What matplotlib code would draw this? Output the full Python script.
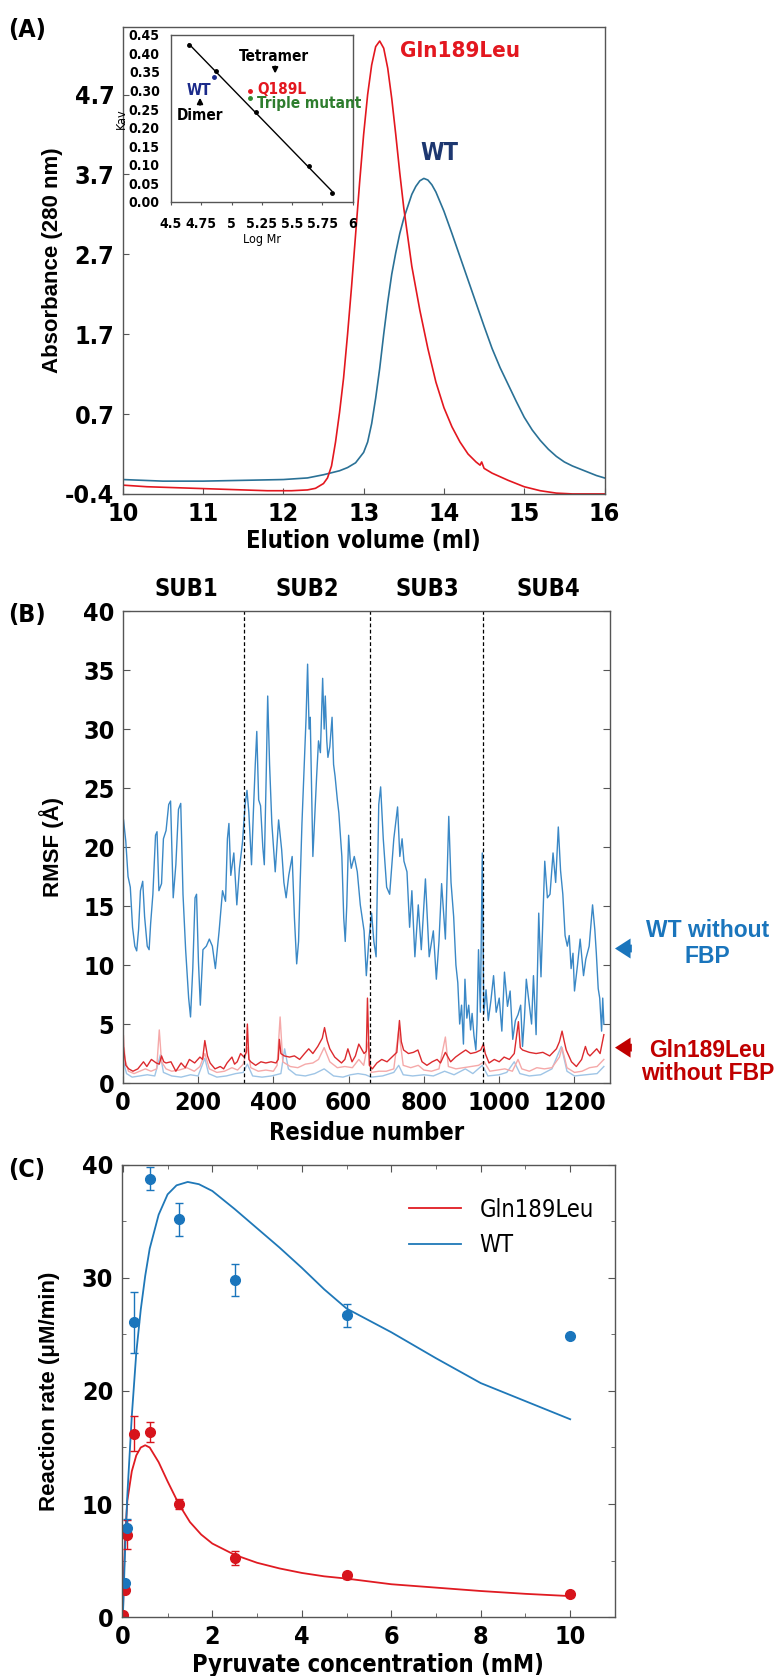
import matplotlib
matplotlib.use('Agg')
import matplotlib.pyplot as plt
import numpy as np
from matplotlib import font_manager
from matplotlib.ticker import MultipleLocator, FormatStrFormatter

# ---- panel A: size-exclusion chromatograms ----
ELU_WT_X = [10.0, 10.5, 11.0, 11.5, 12.0, 12.3, 12.5, 12.7, 12.8, 12.9, 13.0, 13.05, 13.1, 13.15,
            13.2, 13.25, 13.3, 13.35, 13.4, 13.45, 13.5, 13.55, 13.6, 13.65, 13.7, 13.75, 13.8,
            13.85, 13.9, 14.0, 14.1, 14.2, 14.3, 14.4, 14.5, 14.6, 14.7, 14.8, 14.9, 15.0, 15.1,
            15.2, 15.3, 15.4, 15.5, 15.6, 15.7, 15.8, 15.9, 16.0]
ELU_WT_Y = [-0.12, -0.14, -0.14, -0.13, -0.12, -0.10, -0.06, -0.01, 0.03, 0.09, 0.22, 0.35, 0.58,
            0.90, 1.27, 1.70, 2.10, 2.45, 2.72, 2.96, 3.15, 3.30, 3.45, 3.55, 3.62, 3.65, 3.63, 3.57,
            3.48, 3.24, 2.96, 2.67, 2.38, 2.09, 1.80, 1.52, 1.28, 1.07, 0.86, 0.66, 0.50, 0.37, 0.26,
            0.17, 0.10, 0.05, 0.01, -0.03, -0.07, -0.10]
ELU_MUT_X = [10.0, 10.3, 10.6, 10.9, 11.2, 11.5, 11.8, 12.1, 12.3, 12.4, 12.5, 12.55, 12.6, 12.65,
             12.7, 12.75, 12.8, 12.85, 12.9, 12.95, 13.0, 13.05, 13.1, 13.15, 13.2, 13.25, 13.3,
             13.35, 13.4, 13.45, 13.5, 13.6, 13.7, 13.8, 13.9, 14.0, 14.1, 14.2, 14.3, 14.4, 14.45,
             14.47, 14.5, 14.6, 14.8, 15.0, 15.2, 15.4, 15.6, 15.8, 16.0]
ELU_MUT_Y = [-0.19, -0.21, -0.22, -0.23, -0.24, -0.25, -0.26, -0.26, -0.25, -0.23, -0.17, -0.10,
             0.05, 0.35, 0.72, 1.15, 1.70, 2.30, 2.95, 3.60, 4.20, 4.70, 5.07, 5.30, 5.37, 5.28,
             5.03, 4.65, 4.20, 3.72, 3.28, 2.55, 2.00, 1.52, 1.10, 0.78, 0.54, 0.35, 0.20, 0.10,
             0.06, 0.10, 0.02, -0.04, -0.13, -0.21, -0.26, -0.29, -0.30, -0.30, -0.30]
# the bottom tick of the original axis is labelled -0.4 although it sits one full step below 0.7
A_YTICKS = [-0.3, 0.7, 1.7, 2.7, 3.7, 4.7]
A_YTICKLABELS = ['-0.4', '0.7', '1.7', '2.7', '3.7', '4.7']

# inset: calibration
CAL_LOGMR = [4.649, 4.876, 5.202, 5.640, 5.826]
CAL_KAV = [0.421, 0.351, 0.241, 0.098, 0.024]
WT_LOGMR, WT_KAV = 4.855, 0.337
Q189L_LOGMR, Q189L_KAV = 5.153, 0.299
TRIPLE_LOGMR, TRIPLE_KAV = 5.153, 0.281
INSET_XTICKS = [4.5, 4.75, 5.0, 5.25, 5.5, 5.75, 6.0]
INSET_XTICKLABELS = ['4.5', '4.75', '5', '5.25', '5.5', '5.75', '6']

# ---- panel B: RMSF per residue ----
WT_RMSF = [
    (2, 22.3), (8, 20.5), (14, 17.5), (20, 16.6), (26, 13.2), (32, 11.6), (37, 11.2), (42, 13.0),
    (47, 16.3), (53, 17.1), (58, 14.1), (65, 11.6), (70, 11.3), (74, 13.5), (80, 16.0), (87, 21.0),
    (91, 21.3), (96, 16.3), (103, 16.9), (108, 20.7), (115, 21.4), (122, 23.6), (127, 23.9),
    (134, 15.7), (141, 18.5), (148, 23.2), (154, 23.7), (160, 16.0), (167, 11.3), (175, 7.2),
    (180, 5.6), (186, 9.7), (192, 15.7), (196, 16.0), (201, 10.3), (206, 6.6), (213, 11.3),
    (222, 11.6), (230, 12.2), (238, 11.6), (246, 9.7), (256, 12.9), (265, 16.3), (273, 15.4),
    (278, 20.7), (282, 22.0), (287, 17.6), (295, 19.5), (303, 15.1), (310, 18.2), (318, 20.4),
    (325, 23.6), (330, 24.8), (335, 22.9), (342, 18.5), (347, 23.0), (352, 27.0), (356, 29.8),
    (361, 24.0), (366, 23.5), (372, 20.0), (376, 18.5), (381, 26.0), (385, 32.8), (390, 27.0),
    (396, 22.0), (405, 17.9), (414, 22.3), (422, 19.8), (428, 17.0), (434, 15.7), (441, 17.6),
    (450, 19.2), (456, 14.0), (462, 10.1), (467, 12.0), (471, 16.7), (476, 22.0), (481, 26.0),
    (487, 31.0), (491, 35.5), (495, 30.0), (498, 31.0), (502, 24.0), (505, 19.2), (509, 22.0),
    (515, 26.0), (520, 29.0), (525, 28.0), (531, 34.3), (535, 30.0), (538, 32.8), (542, 29.0),
    (545, 27.6), (550, 28.5), (556, 31.0), (560, 27.0), (564, 26.0), (570, 24.0), (574, 22.9),
    (582, 19.2), (587, 14.0), (591, 12.0), (595, 15.0), (600, 21.0), (604, 19.0), (607, 18.2),
    (615, 19.2), (623, 17.9), (631, 15.1), (636, 14.0), (641, 12.9), (647, 9.1), (654, 12.2),
    (661, 14.4), (667, 12.0), (673, 10.7), (680, 23.6), (685, 25.1), (692, 20.7), (701, 16.6),
    (709, 16.0), (720, 20.7), (730, 23.4), (736, 19.2), (742, 20.7), (747, 18.8), (755, 17.9),
    (762, 13.2), (768, 16.3), (776, 10.7), (785, 15.1), (793, 11.3), (804, 17.3), (814, 10.7),
    (825, 12.9), (833, 8.8), (840, 12.0), (847, 16.9), (857, 12.2), (866, 22.6), (872, 17.0),
    (879, 14.1), (885, 10.0), (890, 8.5), (895, 5.0), (900, 6.6), (905, 3.3), (909, 8.8),
    (914, 5.5), (919, 6.6), (924, 4.5), (928, 5.9), (933, 4.0), (938, 2.8), (941, 5.0),
    (945, 11.3), (950, 6.0), (955, 19.5), (959, 5.9), (965, 7.9), (971, 5.3), (978, 7.0),
    (985, 9.1), (992, 6.0), (1000, 7.2), (1007, 4.4), (1014, 9.4), (1022, 6.5), (1029, 7.8),
    (1036, 3.7), (1043, 5.3), (1050, 5.8), (1057, 6.6), (1062, 3.1), (1067, 5.5), (1072, 8.8),
    (1080, 6.6), (1086, 5.0), (1091, 9.1), (1098, 4.1), (1105, 14.4), (1111, 9.0), (1121, 18.8),
    (1128, 15.7), (1135, 16.0), (1143, 19.5), (1150, 17.0), (1157, 21.7), (1163, 18.0),
    (1169, 16.0), (1175, 12.5), (1181, 11.6), (1186, 12.5), (1191, 9.7), (1196, 11.0),
    (1200, 7.8), (1208, 10.0), (1215, 12.2), (1224, 9.1), (1230, 10.5), (1239, 11.6),
    (1248, 15.1), (1254, 13.0), (1258, 11.0), (1263, 8.0), (1267, 7.2), (1272, 4.4),
    (1275, 7.2), (1278, 5.0),
]
MUT_RMSF = [
    (2, 3.0), (8, 1.5), (16, 1.2), (27, 1.0), (40, 1.2), (55, 1.8), (64, 1.4), (76, 2.0), (89, 1.7),
    (97, 1.6), (103, 2.3), (109, 1.8), (115, 1.7), (128, 1.8), (141, 1.0), (155, 1.7), (166, 1.3),
    (177, 2.0), (191, 1.7), (205, 2.2), (212, 2.0), (218, 3.6), (225, 2.3), (232, 1.7), (245, 1.2),
    (259, 1.4), (268, 1.2), (277, 1.7), (290, 2.2), (297, 1.6), (304, 1.8), (313, 2.5), (322, 2.2),
    (328, 2.6), (331, 5.0), (335, 2.0), (340, 1.8), (353, 1.5), (367, 1.8), (380, 1.7), (394, 1.8),
    (407, 1.7), (413, 2.0), (416, 3.7), (420, 2.5), (429, 2.3), (443, 2.2), (456, 2.3), (470, 2.0),
    (483, 2.5), (494, 2.9), (505, 2.5), (518, 3.1), (530, 3.8), (536, 4.7), (543, 3.6), (550, 2.9),
    (563, 2.2), (581, 1.7), (590, 2.0), (598, 2.9), (609, 1.8), (618, 2.3), (627, 3.3), (641, 2.5),
    (647, 2.7), (650, 7.2), (655, 1.5), (663, 1.2), (675, 1.7), (688, 2.0), (702, 1.8), (715, 2.2),
    (728, 2.6), (735, 5.3), (740, 3.5), (746, 2.8), (759, 2.5), (772, 2.6), (784, 2.8), (795, 1.8),
    (808, 1.5), (822, 1.8), (835, 2.0), (844, 1.7), (857, 2.6), (871, 1.8), (884, 2.2), (897, 2.5),
    (911, 2.8), (924, 2.5), (938, 2.6), (951, 2.8), (958, 3.3), (963, 2.5), (973, 1.7), (987, 2.0),
    (1000, 1.8), (1013, 2.2), (1027, 2.0), (1040, 2.5), (1051, 5.2), (1056, 3.0), (1062, 2.8),
    (1080, 2.6), (1098, 2.5), (1116, 2.6), (1134, 2.3), (1152, 2.9), (1160, 3.5), (1167, 4.4),
    (1173, 3.5), (1178, 2.8), (1192, 1.8), (1205, 1.4), (1219, 2.0), (1229, 3.1), (1235, 2.5),
    (1241, 2.3), (1259, 2.9), (1268, 2.5), (1278, 4.1),
]
MUT_FBP_RMSF = [
    (2, 4.0), (6, 2.0), (15, 1.0), (30, 0.8), (45, 1.0), (60, 1.2), (75, 1.0), (90, 1.2), (97, 4.5),
    (103, 1.8), (115, 1.2), (130, 1.0), (150, 1.1), (170, 1.3), (190, 1.0), (205, 1.4), (218, 2.5),
    (230, 1.2), (250, 0.9), (270, 1.0), (290, 1.3), (305, 1.1), (320, 1.6), (331, 3.0), (340, 1.3),
    (360, 1.0), (380, 1.1), (400, 1.0), (410, 1.5), (418, 5.6), (425, 1.8), (445, 1.4), (465, 1.3),
    (485, 1.6), (505, 1.7), (520, 2.0), (535, 3.0), (550, 1.8), (570, 1.3), (590, 1.4), (610, 1.3),
    (627, 2.0), (640, 1.5), (652, 3.5), (660, 0.9), (680, 1.0), (700, 1.0), (720, 1.2), (733, 4.5),
    (745, 1.5), (765, 1.3), (785, 1.5), (800, 1.1), (820, 1.0), (840, 1.2), (857, 3.9), (865, 1.4),
    (885, 1.2), (905, 1.3), (925, 1.4), (945, 1.5), (960, 1.8), (975, 1.0), (995, 1.1), (1015, 1.2),
    (1035, 1.0), (1050, 2.0), (1060, 1.2), (1080, 1.0), (1100, 1.3), (1120, 1.2), (1140, 1.3),
    (1160, 2.2), (1167, 3.0), (1180, 1.3), (1200, 0.9), (1220, 1.0), (1240, 1.3), (1260, 1.4),
    (1278, 2.0),
]
WT_FBP_RMSF = [
    (2, 1.8), (10, 0.8), (25, 0.5), (45, 0.6), (65, 0.7), (85, 0.6), (100, 2.4), (108, 0.9),
    (130, 0.6), (155, 0.5), (180, 0.7), (200, 0.6), (218, 2.1), (228, 0.8), (250, 0.5), (275, 0.6),
    (300, 0.8), (320, 0.9), (331, 1.6), (345, 0.6), (370, 0.5), (395, 0.6), (420, 0.8), (430, 2.9),
    (440, 1.2), (460, 0.7), (485, 0.6), (510, 0.8), (535, 1.2), (560, 0.6), (585, 0.5), (605, 0.7),
    (625, 0.8), (645, 0.7), (660, 0.5), (690, 0.6), (720, 0.9), (733, 1.5), (745, 0.7), (770, 0.6),
    (800, 0.7), (825, 0.6), (855, 1.0), (880, 0.7), (910, 1.2), (930, 0.8), (955, 1.5), (970, 0.6),
    (1000, 0.7), (1020, 0.9), (1040, 1.8), (1055, 0.8), (1080, 0.6), (1110, 0.7), (1140, 1.2),
    (1165, 3.1), (1180, 1.0), (1200, 0.6), (1230, 0.7), (1260, 0.8), (1278, 1.4),
]
SUB_BOUNDS = [323, 657, 957]
SUB_NAMES = ['SUB1', 'SUB2', 'SUB3', 'SUB4']
SUB_CENTERS = [169, 490, 809, 1131]

# ---- panel C: kinetics ----
PYR_WT = [0.05, 0.1, 0.25, 0.6, 1.25, 2.5, 5.0, 10.0]
RATE_WT = [3.0, 7.9, 26.1, 38.8, 35.2, 29.8, 26.7, 24.9]
ERR_WT = [0.0, 0.8, 2.7, 1.0, 1.45, 1.4, 1.0, 0.0]
PYR_MUT = [0.0, 0.05, 0.1, 0.25, 0.6, 1.25, 2.5, 5.0, 10.0]
RATE_MUT = [0.2, 2.4, 7.3, 16.2, 16.4, 10.0, 5.2, 3.7, 2.0]
ERR_MUT = [0.0, 0.0, 1.3, 1.55, 0.9, 0.4, 0.6, 0.3, 0.2]
FIT_X_WT = [0.0, 0.05, 0.1, 0.2, 0.3, 0.4, 0.5, 0.6, 0.8, 1.0, 1.2, 1.45, 1.7, 2.0, 2.5, 3.0,
            3.5, 4.0, 4.5, 5.0, 6.0, 7.0, 8.0, 9.0, 10.0]
FIT_Y_WT = [0.0, 6.0, 10.8, 17.8, 23.4, 27.2, 30.2, 32.6, 35.6, 37.4, 38.2, 38.5, 38.3, 37.7,
            36.1, 34.4, 32.7, 30.9, 29.0, 27.3, 25.2, 22.9, 20.7, 19.1, 17.5]
FIT_X_MUT = [0.0, 0.02, 0.05, 0.1, 0.2, 0.3, 0.4, 0.5, 0.6, 0.8, 1.0, 1.25, 1.5, 1.75, 2.0, 2.5,
             3.0, 3.5, 4.0, 4.5, 5.0, 6.0, 7.0, 8.0, 9.0, 10.0]
FIT_Y_MUT = [0.0, 3.5, 7.0, 10.3, 12.9, 14.3, 15.0, 15.2, 15.0, 13.7, 12.0, 10.0, 8.4, 7.3, 6.5,
             5.5, 4.8, 4.3, 3.9, 3.6, 3.4, 2.9, 2.6, 2.3, 2.05, 1.85]

# pick a narrow face for tick labels if one is installed
entries = {(f.name, f.stretch) for f in font_manager.fontManager.ttflist}
if any(n == 'Liberation Sans Narrow' for n, _ in entries):
    NARROW, STRETCH = 'Liberation Sans Narrow', 'normal'
elif ('DejaVu Sans', 'condensed') in entries:
    NARROW, STRETCH = 'DejaVu Sans', 'condensed'
else:
    NARROW, STRETCH = 'Liberation Sans', 'normal'
WIDE = 'Liberation Sans'
plt.rcParams['font.family'] = [NARROW, 'DejaVu Sans']
plt.rcParams['font.stretch'] = STRETCH
plt.rcParams['font.weight'] = 'bold'
plt.rcParams['axes.labelweight'] = 'bold'

SPINE = '#555555'
RED = '#e3171f'
TEAL = '#2a7196'
BLUE = '#1a75bc'
DARKRED = '#c00000'
WIDE_KW = dict(family=WIDE, stretch='normal', weight='bold')


def style_spines(ax):
    for s in ax.spines.values():
        s.set_color(SPINE)
        s.set_linewidth(1.0)


fig = plt.figure(figsize=(7.77, 16.76), dpi=100)

# ================= (A) =================
axA = fig.add_axes([0.158, 0.7053, 0.620, 0.2788])
axA.plot(ELU_WT_X, ELU_WT_Y, color=TEAL, lw=1.2)
axA.plot(ELU_MUT_X, ELU_MUT_Y, color=RED, lw=1.2)
axA.set_xlim(10, 16)
axA.set_ylim(-0.3, 5.55)
axA.set_yticks(A_YTICKS)
axA.set_yticklabels(A_YTICKLABELS)
axA.set_xticks(range(10, 17))
axA.tick_params(direction='in', length=4, labelsize=18, pad=6, color=SPINE)
style_spines(axA)
axA.set_xlabel('Elution volume (ml)', fontsize=17)
axA.xaxis.set_label_coords(0.5, -0.075)
axA.set_ylabel('Absorbance (280 nm)', fontsize=16, **WIDE_KW)
axA.yaxis.set_label_coords(-0.125, 0.5)
axA.text(14.2, 5.25, 'Gln189Leu', color=RED, fontsize=16, ha='center', va='center')
axA.text(13.94, 3.97, 'WT', color='#1d3770', fontsize=17, ha='center', va='center')
fig.text(0.01, 0.982, '(A)', fontsize=18, va='center', ha='left')

# inset
axI = fig.add_axes([0.220, 0.8795, 0.2339, 0.0998])
slope, icpt = np.polyfit(CAL_LOGMR, CAL_KAV, 1)
xl = np.array([CAL_LOGMR[0], CAL_LOGMR[-1]])
axI.plot(xl, slope * xl + icpt, color='black', lw=1.0)
axI.plot(CAL_LOGMR, CAL_KAV, 'o', color='black', ms=2.5)
axI.plot(WT_LOGMR, WT_KAV, 'o', color='#1b2a8a', ms=2.5)
axI.plot(Q189L_LOGMR, Q189L_KAV, 'o', color=RED, ms=2.5)
axI.plot(TRIPLE_LOGMR, TRIPLE_KAV, 'o', color='#2e8b2e', ms=2.5)
axI.set_xlim(4.5, 6)
axI.set_ylim(0, 0.45)
axI.set_xticks(INSET_XTICKS)
axI.set_xticklabels(INSET_XTICKLABELS)
axI.yaxis.set_major_locator(MultipleLocator(0.05))
axI.yaxis.set_major_formatter(FormatStrFormatter('%.2f'))
axI.tick_params(axis='x', direction='out', length=2.5, labelsize=10, pad=8, color=SPINE)
axI.tick_params(axis='y', length=0, labelsize=10, pad=8)
style_spines(axI)
axI.set_xlabel('Log Mr', fontsize=9, weight='normal', labelpad=2)
axI.set_ylabel('Kav', fontsize=9, weight='normal', labelpad=1)
axI.text(5.35, 0.39, 'Tetramer', fontsize=11, ha='center', va='center')
axI.annotate('', xy=(5.36, 0.338), xytext=(5.36, 0.372),
             arrowprops=dict(arrowstyle='-|>', color='black', lw=1.4, mutation_scale=8))
axI.text(5.21, 0.302, 'Q189L', fontsize=11, color=RED, ha='left', va='center')
axI.text(5.21, 0.265, 'Triple mutant', fontsize=11, color='#2e7d2e', ha='left', va='center')
axI.text(4.73, 0.30, 'WT', fontsize=11, color='#1b2a8a', ha='center', va='center')
axI.annotate('', xy=(4.74, 0.288), xytext=(4.74, 0.254),
             arrowprops=dict(arrowstyle='-|>', color='black', lw=1.4, mutation_scale=8))
axI.text(4.74, 0.232, 'Dimer', fontsize=11, ha='center', va='center')

# ================= (B) =================
axB = fig.add_axes([0.158, 0.3538, 0.6274, 0.2816])
for pairs, col in [(WT_FBP_RMSF, '#9fc5e6'), (MUT_FBP_RMSF, '#f5a9a9'),
                   (MUT_RMSF, '#dc2a2e'), (WT_RMSF, '#3a88c6')]:
    res, val = zip(*pairs)
    axB.plot(res, val, color=col, lw=1.0)
for b in SUB_BOUNDS:
    axB.axvline(b, color='black', lw=0.9, ls=(0, (3, 2)))
axB.set_xlim(0, 1295)
axB.set_ylim(0, 40)
axB.yaxis.set_major_locator(MultipleLocator(5))
axB.xaxis.set_major_locator(MultipleLocator(200))
axB.tick_params(direction='in', length=5, labelsize=18, pad=6, color=SPINE, right=True)
style_spines(axB)
axB.set_xlabel('Residue number', fontsize=17)
axB.xaxis.set_label_coords(0.5, -0.08)
axB.set_ylabel('RMSF (Å)', fontsize=16, **WIDE_KW)
axB.yaxis.set_label_coords(-0.12, 0.5)
tr = axB.get_xaxis_transform()
for name, cx in zip(SUB_NAMES, SUB_CENTERS):
    axB.text(cx, 1.047, name, transform=tr, fontsize=17, ha='center', va='center')
fig.text(0.01, 0.633, '(B)', fontsize=18, va='center', ha='left')

arrow_kw = dict(arrowstyle='simple,head_length=0.7,head_width=0.9,tail_width=0.35',
                mutation_scale=16, lw=0)
axB.annotate('', xy=(1.004, 11.4), xytext=(1.05, 11.4),
             xycoords=('axes fraction', 'data'), textcoords=('axes fraction', 'data'),
             arrowprops=dict(color=BLUE, **arrow_kw), annotation_clip=False)
axB.text(1.2, 11.8, 'WT without\nFBP', transform=axB.get_yaxis_transform(),
         color=BLUE, fontsize=16.5, ha='center', va='center', linespacing=1.15, **WIDE_KW)
axB.annotate('', xy=(1.004, 3.0), xytext=(1.05, 3.0),
             xycoords=('axes fraction', 'data'), textcoords=('axes fraction', 'data'),
             arrowprops=dict(color=DARKRED, **arrow_kw), annotation_clip=False)
axB.text(1.2, 1.8, 'Gln189Leu\nwithout FBP', transform=axB.get_yaxis_transform(),
         color=DARKRED, fontsize=16.5, ha='center', va='center', linespacing=1.0, **WIDE_KW)

# ================= (C) =================
axC = fig.add_axes([0.1564, 0.0352, 0.635, 0.2697])
axC.plot(FIT_X_MUT, FIT_Y_MUT, color='#e01b22', lw=1.3, label='Gln189Leu')
axC.plot(FIT_X_WT, FIT_Y_WT, color='#1f78b8', lw=1.3, label='WT')
axC.errorbar(PYR_MUT, RATE_MUT, yerr=ERR_MUT, fmt='o', color='#d7141c', ms=7,
             capsize=3, elinewidth=1, capthick=1)
axC.errorbar(PYR_WT, RATE_WT, yerr=ERR_WT, fmt='o', color='#1a75bc', ms=7,
             capsize=3, elinewidth=1, capthick=1)
axC.set_xlim(-0.03, 11)
axC.set_ylim(0, 40)
axC.xaxis.set_major_locator(MultipleLocator(2))
axC.xaxis.set_minor_locator(MultipleLocator(1))
axC.yaxis.set_major_locator(MultipleLocator(10))
axC.yaxis.set_minor_locator(MultipleLocator(5))
axC.tick_params(which='both', direction='in', top=True, right=True, color=SPINE)
axC.tick_params(which='major', length=5, labelsize=18, pad=6)
axC.tick_params(which='minor', length=3)
style_spines(axC)
axC.set_xlabel('Pyruvate concentration (mM)', fontsize=17)
axC.xaxis.set_label_coords(0.5, -0.08)
axC.set_ylabel('Reaction rate (μM/min)', fontsize=16, **WIDE_KW)
axC.yaxis.set_label_coords(-0.125, 0.5)
axC.legend(loc='upper right', bbox_to_anchor=(1.0, 0.975), frameon=False,
           prop={'family': NARROW, 'stretch': STRETCH, 'size': 17, 'weight': 'normal'},
           handlelength=2.2, labelspacing=0.5)
fig.text(0.01, 0.302, '(C)', fontsize=18, va='center', ha='left')

fig.savefig('out.png', dpi=100)
